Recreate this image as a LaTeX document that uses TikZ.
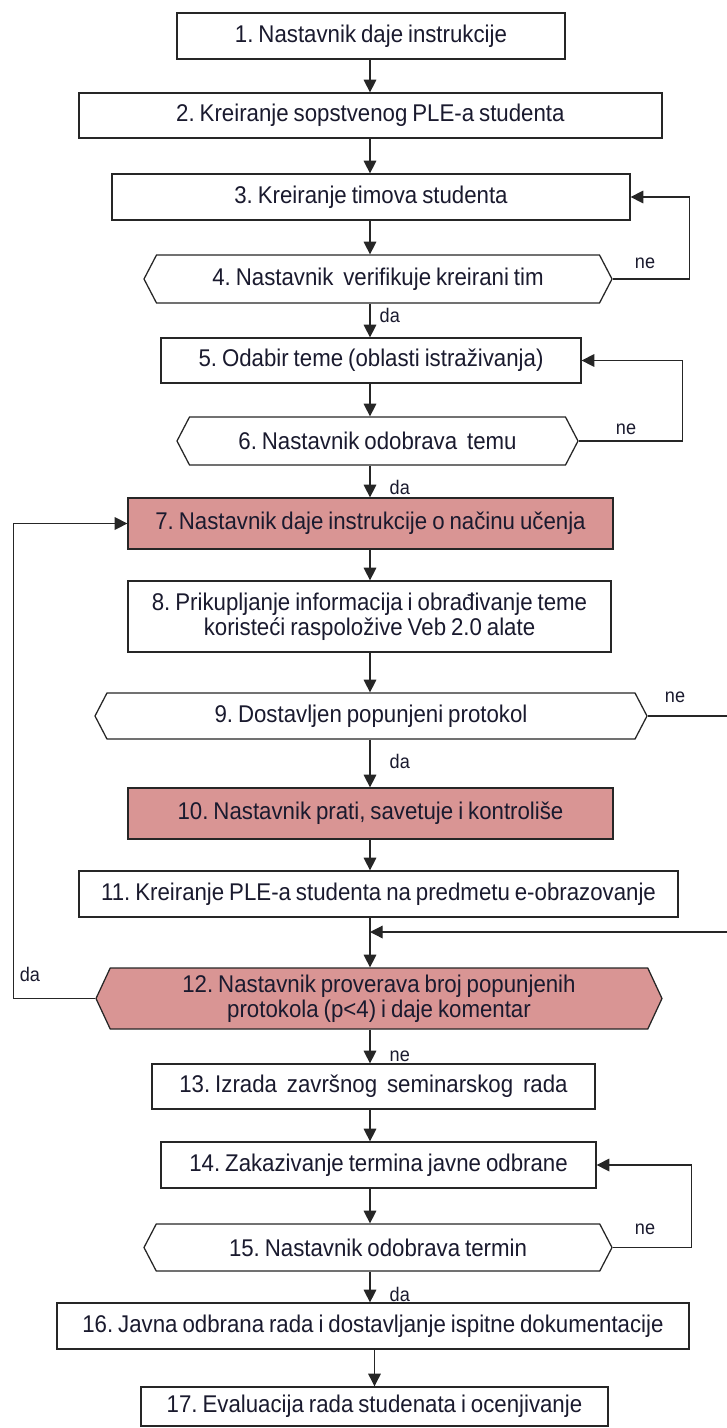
\documentclass[tikz,border=0pt]{standalone}
\usepackage{fontspec}
\setmainfont[FakeStretch=0.92, WordSpace=0.8]{Liberation Sans}
\frenchspacing
\definecolor{boxline}{HTML}{262626}
\definecolor{rosefill}{HTML}{D99594}
\definecolor{inktext}{HTML}{1A1A2E}
\usetikzlibrary{arrows.meta, shapes.symbols}

\begin{document}
\begin{tikzpicture}[
		box/.style={draw=boxline, fill=white, text=inktext, line width=0.9pt, align=center, inner sep=2pt, font=\fontsize{17.2}{17.8}\selectfont},
		hexbox/.style={box, shape=signal, signal to=west and east, signal pointer angle=125},
		hot/.style={fill=rosefill},
		arrow/.style={-{Triangle[width=9pt,length=9pt]}, line width=0.9pt, draw=boxline},
		lbl/.style={text=inktext, font=\fontsize{14}{15}\selectfont, inner sep=1pt}
	]
	\useasboundingbox (0,0) rectangle (18.15,-35.7);
	\coordinate (spine) at (9.25,0);

	% Steps 1-3
	\node[box, minimum width=9.7cm, minimum height=1.15cm] (b1) at (9.275,-0.9) {1. Nastavnik daje instrukcije};
	\node[box, minimum width=14.575cm, minimum height=1.125cm] (b2) at (9.26,-2.8875) {2. Kreiranje sopstvenog PLE-a studenta};
	\node[box, minimum width=12.95cm, minimum height=1.15cm] (b3) at (9.275,-4.925) {3. Kreiranje timova studenta};
	\node[hexbox, minimum width=11.7cm, minimum height=1.2cm] (h4) at (9.45,-6.975) {4. Nastavnik~ verifikuje kreirani tim};

	% Steps 5-6
	\node[box, minimum width=10.5cm, minimum height=1.125cm] (b5) at (9.275,-9.0125) {5. Odabir teme (oblasti istraživanja)};
	\node[hexbox, minimum width=10.025cm, minimum height=1.2cm] (h6) at (9.4375,-11.025) {6. Nastavnik odobrava~ temu};

	% Steps 7-12
	\node[box, hot, minimum width=12.125cm, minimum height=1.275cm] (b7) at (9.2625,-13.0875) {7. Nastavnik daje instrukcije o načinu učenja};
	\node[box, minimum width=12.075cm, minimum height=1.775cm] (b8) at (9.2375,-15.4125) {8. Prikupljanje informacija i obrađivanje teme\\koristeći raspoložive Veb 2.0 alate};
	\node[hexbox, minimum width=13.8cm, minimum height=1.15cm] (h9) at (9.275,-17.9) {9. Dostavljen popunjeni protokol};
	\node[box, hot, minimum width=12.125cm, minimum height=1.275cm] (b10) at (9.2625,-20.3375) {10. Nastavnik prati, savetuje i kontroliše};
	\node[box, minimum width=14.975cm, minimum height=1.15cm] (b11) at (9.4625,-22.35) {11. Kreiranje PLE-a studenta na predmetu e-obrazovanje};
	\node[hexbox, hot, signal pointer angle=130, minimum width=14.15cm, minimum height=1.525cm] (h12) at (9.475,-24.9625) {12. Nastavnik proverava broj popunjenih\\protokola (p<4) i daje komentar};

	% Steps 13-17
	\node[box, minimum width=11.075cm, minimum height=1.125cm] (b13) at (9.3375,-27.1625) {13. Izrada~ završnog~ seminarskog~ rada};
	\node[box, minimum width=10.875cm, minimum height=1.15cm] (b14) at (9.4625,-29.125) {14. Zakazivanje termina javne odbrane};
	\node[hexbox, minimum width=11.7cm, minimum height=1.175cm] (h15) at (9.45,-31.1875) {15. Nastavnik odobrava termin};
	\node[box, minimum width=15.8cm, minimum height=1.15cm] (b16) at (9.325,-33.15) {16. Javna odbrana rada i dostavljanje ispitne dokumentacije};
	\node[box, minimum width=11.675cm, minimum height=0.975cm] (b17) at (9.3625,-35.16) {17. Evaluacija rada studenata i ocenjivanje};

	% Main flow
	\draw[arrow] (b1.south -| spine) -- (b2.north -| spine);
	\draw[arrow] (b2.south -| spine) -- (b3.north -| spine);
	\draw[arrow] (b3.south -| spine) -- (h4.north -| spine);
	\draw[arrow] (h4.south -| spine) -- (b5.north -| spine);
	\draw[arrow] (b5.south -| spine) -- (h6.north -| spine);
	\draw[arrow] (h6.south -| spine) -- (b7.north -| spine);
	\draw[arrow] (b7.south -| spine) -- (b8.north -| spine);
	\draw[arrow] (b8.south -| spine) -- (h9.north -| spine);
	\draw[arrow] (h9.south -| spine) -- (b10.north -| spine);
	\draw[arrow] (b10.south -| spine) -- (b11.north -| spine);
	\draw[arrow] (b11.south -| spine) -- (h12.north -| spine);
	\draw[arrow] (h12.south -| spine) -- (b13.north -| spine);
	\draw[arrow] (b13.south -| spine) -- (b14.north -| spine);
	\draw[arrow] (b14.south -| spine) -- (h15.north -| spine);
	\draw[arrow] (h15.south -| spine) -- (b16.north -| spine);
	\draw[arrow] (b16.south -| b17.north) -- (b17.north);

	% Loops back
	\draw[arrow] (h4.east) -- ++(1.925,0) |- (b3.east);
	\draw[arrow] (h6.east) -- ++(2.6,0) |- (b5.east);
	\coordinate (join) at (9.25,-23.3);
	\draw[arrow] (h9.east) -- (18.3,-17.9) |- (join);
	\draw[arrow] (h12.west) -- ++(-2.05,0) |- (b7.west);
	\draw[arrow] (h15.east) -- ++(1.975,0) |- (b14.east);

	% Labels
	\node[lbl, anchor=west] (da4) at (9.45,-7.875) {da};
	\node[lbl] (ne4) at (16.125,-6.575) {ne};
	\node[lbl, anchor=west] (da6) at (9.7,-12.175) {da};
	\node[lbl] (ne6) at (15.65,-10.725) {ne};
	\node[lbl, anchor=west] (da9) at (9.7,-19.025) {da};
	\node[lbl] (ne9) at (16.875,-17.425) {ne};
	\node[lbl] (da12) at (0.75,-24.35) {da};
	\node[lbl, anchor=west] (ne12) at (9.7,-26.4) {ne};
	\node[lbl] (ne15) at (16.125,-30.725) {ne};
	\node[lbl, anchor=west] (da15) at (9.7,-32.35) {da};
\end{tikzpicture}
\end{document}
